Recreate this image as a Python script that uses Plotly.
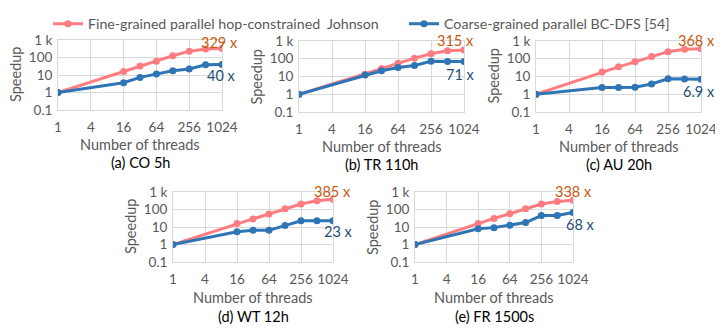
import math
import plotly.graph_objects as go

threads = [1, 16, 32, 64, 128, 256, 512, 1024]

# speedup per dataset: fine-grained (Johnson) and coarse-grained (BC-DFS)
co_fine = [1, 16, 33, 62, 125, 230, 310, 329]
co_coarse = [1, 3.6, 7.3, 11.4, 17.5, 22, 38, 40]
tr_fine = [1, 13.5, 28, 55, 108, 190, 280, 315]
tr_coarse = [1, 12, 21, 32, 42, 72, 70, 71]
au_fine = [1, 18, 35, 67, 135, 250, 340, 368]
au_coarse = [1, 2.4, 2.4, 2.5, 3.8, 7.4, 7.2, 6.9]
wt_fine = [1, 16, 29, 55, 110, 205, 315, 385]
wt_coarse = [1, 5.3, 6.5, 6.5, 12, 22.5, 23, 23]
fr_fine = [1, 16, 31, 57, 110, 205, 290, 338]
fr_coarse = [1, 8, 9.2, 12.4, 18, 45, 45, 68]

panels = ['(a) CO 5h', '(b) TR 110h', '(c) AU 20h', '(d) WT 12h', '(e) FR 1500s']
fine_all = [co_fine, tr_fine, au_fine, wt_fine, fr_fine]
coarse_all = [co_coarse, tr_coarse, au_coarse, wt_coarse, fr_coarse]
fine_labels = ['329 x', '315 x', '368 x', '385 x', '338 x']
coarse_labels = ['40 x', '71 x', '6.9 x', '23 x', '68 x']

x_ticks = [1, 4, 16, 64, 256, 1024]
y_ticks = [0.1, 1, 10, 100, 1000]
y_text = ['0.1', '1', '10', '100', '1 k']

# the page has an 8px body margin, so the figure is shrunk and everything shifted
OFF = 8
W, H = 723 - OFF, 329 - OFF
# plot areas in page pixels: left, right, top, bottom
boxes = [(58, 222, 40, 110), (299, 464, 41, 112), (536, 701, 41, 112),
         (173, 333, 192, 262), (415, 573, 192, 262)]
# label centre offsets (px, up positive) relative to last point: fine, coarse
lab_off = [((-3, 6), (-1, -11)), ((-9, 9), (-4, -13)), ((-5, 8), (-2, -12)),
           ((-1, 8), (5, -11)), ((0, 9), (7, -12))]

FINE = '#FF7C80'
COARSE = '#2E75B6'
GRAY = '#595959'
FONT = 'Lato'


def px(x):
    return (x - OFF) / W


def py(y):
    return 1 - (y - OFF) / H


fig = go.Figure()
annotations = []
for i in range(5):
    xa = 'x' if i == 0 else f'x{i+1}'
    ya = 'y' if i == 0 else f'y{i+1}'
    fig.add_trace(go.Scatter(x=threads, y=fine_all[i], mode='lines+markers',
                             line=dict(color=FINE, width=3), marker=dict(size=7, color=FINE),
                             name='Fine-grained parallel hop-constrained  Johnson',
                             showlegend=(i == 0), legend='legend', xaxis=xa, yaxis=ya))
    fig.add_trace(go.Scatter(x=threads, y=coarse_all[i], mode='lines+markers',
                             line=dict(color=COARSE, width=3), marker=dict(size=7, color=COARSE),
                             name='Coarse-grained parallel BC-DFS [54]',
                             showlegend=(i == 0), legend='legend2', xaxis=xa, yaxis=ya))
    l, r, t, b = boxes[i]
    axis_x = dict(type='log', range=[0, 3.0103], tickvals=x_ticks, ticktext=[str(v) for v in x_ticks],
                  domain=[px(l), px(r)], anchor=ya, showgrid=True, gridcolor='#D9D9D9', gridwidth=1,
                  zeroline=False, showline=True, linecolor='#D9D9D9', mirror=True,
                  ticks='outside', ticklen=5, tickcolor='rgba(0,0,0,0)',
                  tickfont=dict(size=13.5, color=GRAY, family=FONT))
    axis_y = dict(type='log', range=[-1, 3], tickvals=y_ticks, ticktext=y_text,
                  domain=[py(b), py(t)], anchor=xa, showgrid=True, gridcolor='#D9D9D9',
                  zeroline=False, showline=True, linecolor='#D9D9D9', mirror=True,
                  ticks='outside', ticklen=2, tickcolor='rgba(0,0,0,0)',
                  tickfont=dict(size=13.5, color=GRAY, family=FONT))
    fig.update_layout(**{('xaxis' if i == 0 else f'xaxis{i+1}'): axis_x,
                         ('yaxis' if i == 0 else f'yaxis{i+1}'): axis_y})
    # end labels
    (fdx, fdy), (cdx, cdy) = lab_off[i]
    annotations.append(dict(x=3.0103, y=math.log10(fine_all[i][-1]), xref=xa, yref=ya,
                            text=fine_labels[i], showarrow=False, xshift=fdx, yshift=fdy,
                            xanchor='center', yanchor='middle',
                            font=dict(size=14.5, color='#C55A11', family=FONT)))
    annotations.append(dict(x=3.0103, y=math.log10(coarse_all[i][-1]), xref=xa, yref=ya,
                            text=coarse_labels[i], showarrow=False, xshift=cdx, yshift=cdy,
                            xanchor='center', yanchor='middle',
                            font=dict(size=14.5, color='#1F4E79', family=FONT)))
    # axis titles and panel captions
    annotations.append(dict(x=px((l + r) / 2), y=py(b + 35), xref='paper', yref='paper',
                            text='Number of threads', showarrow=False, xanchor='center', yanchor='middle',
                            font=dict(size=14.5, color=GRAY, family=FONT)))
    annotations.append(dict(x=px(l - 43), y=py((t + b) / 2), xref='paper', yref='paper',
                            text='Speedup', showarrow=False, textangle=-90, xanchor='center', yanchor='middle',
                            font=dict(size=14.5, color=GRAY, family=FONT)))
    annotations.append(dict(x=px((l + r) / 2), y=py(b + 52 if i < 3 else b + 54), xref='paper', yref='paper',
                            text=panels[i], showarrow=False, xanchor='center', yanchor='middle',
                            font=dict(size=14.5, color='black', family=FONT)))

leg = dict(orientation='h', y=1.0, xanchor='left', yanchor='top', itemwidth=30,
           font=dict(size=14.2, color=GRAY, family=FONT), bgcolor='rgba(0,0,0,0)')
fig.update_layout(width=W, height=H, margin=dict(l=0, r=0, t=0, b=0, autoexpand=False),
                  plot_bgcolor='white', paper_bgcolor='white',
                  annotations=annotations,
                  legend=dict(leg, x=px(48)),
                  legend2=dict(leg, x=px(404)))

fig.write_html("out.html")
